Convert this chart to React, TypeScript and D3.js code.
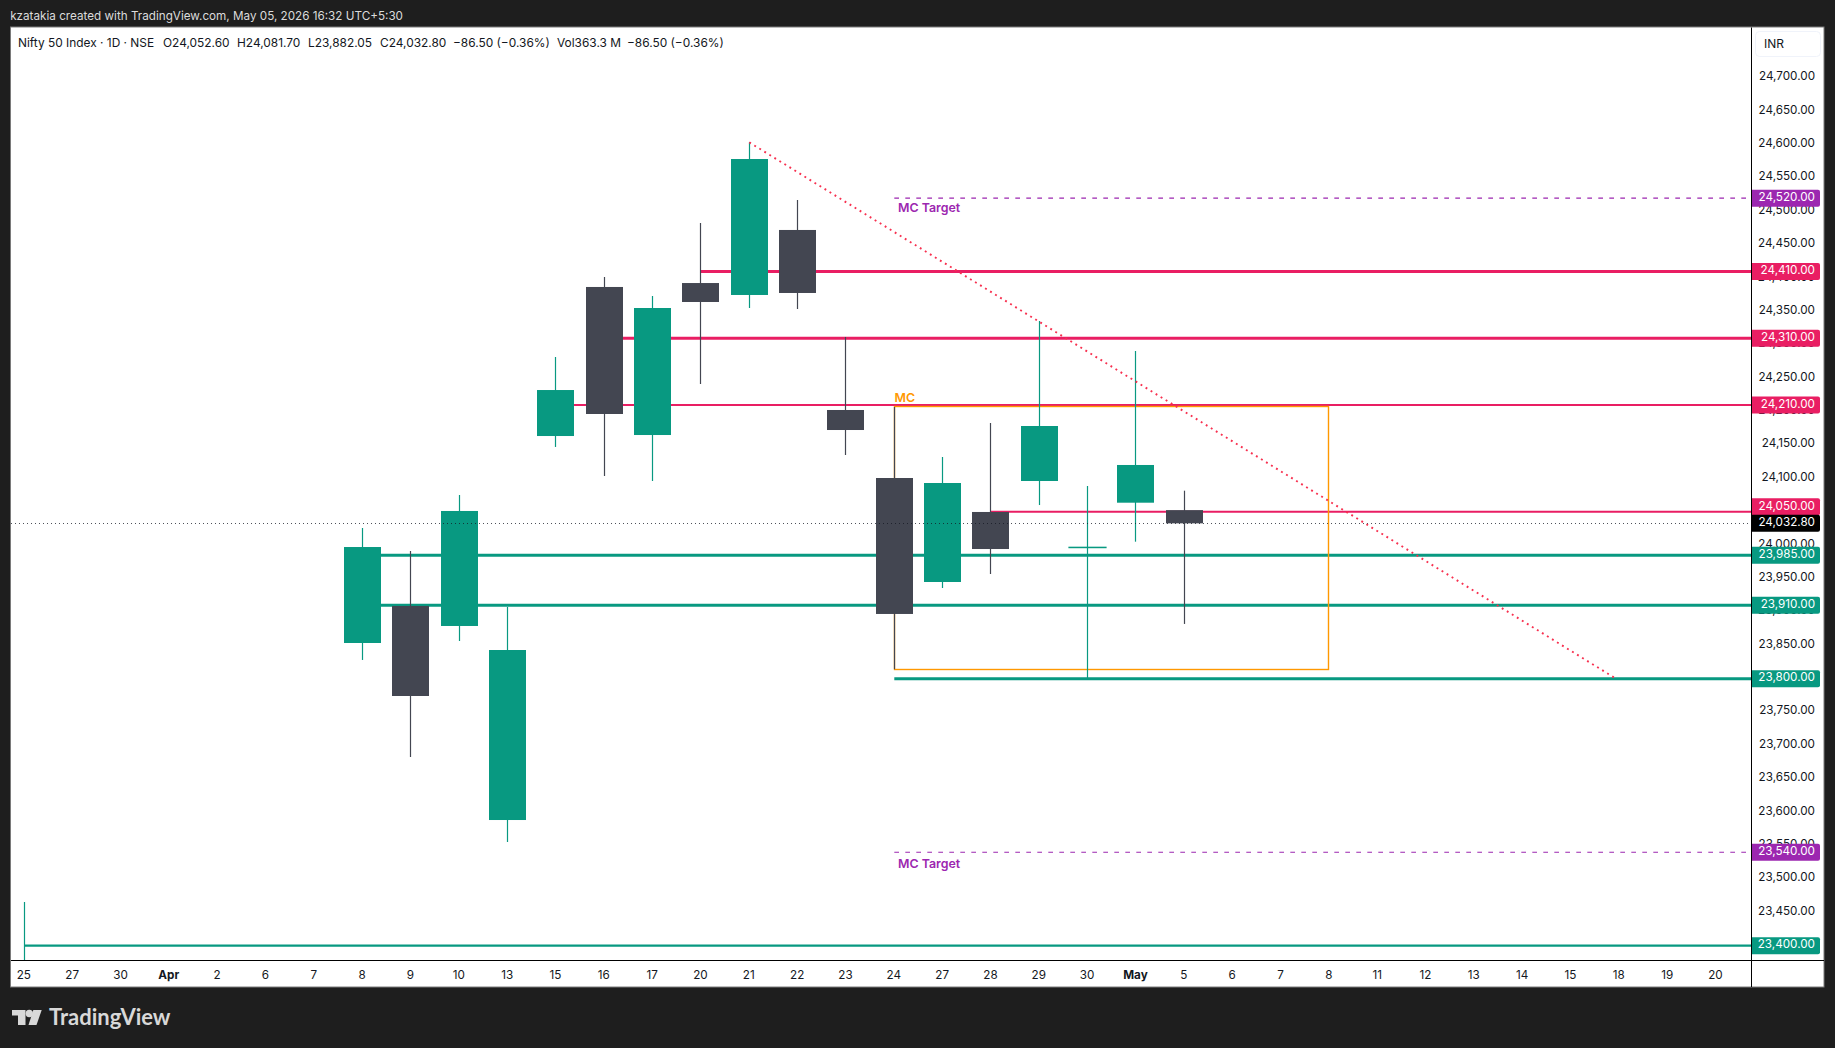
import * as d3 from 'd3';
import { useRef, useEffect } from 'react';

const WIDTH = 1835;
const HEIGHT = 1048;

// session labels along the time axis, one per bar slot
const dateLabels = ['25', '27', '30', 'Apr', '2', '6', '7', '8', '9', '10', '13', '15', '16', '17', '20', '21', '22', '23', '24', '27', '28', '29', '30', 'May', '5', '6', '7', '8', '11', '12', '13', '14', '15', '18', '19', '20'];

// candles. The first one has its body below the visible range
const barSlots = [0, 7, 8, 9, 10, 11, 12, 13, 14, 15, 16, 17, 18, 19, 20, 21, 22, 23, 24];
const opens = [23290, 23853.5, 23909, 23879, 23588.3, 24163.6, 24386.9, 24165.1, 24392.8, 24374.9, 24472.3, 24202.6, 24100.7, 23944.9, 24049.8, 24096.2, 23996.4, 24063.7, 24052.6];
const highs = [23465.5, 24025.8, 23991.3, 24075.2, 23907.4, 24282, 24401.8, 24373.4, 24482.7, 24603.6, 24517.2, 24312, 24207.1, 24132.2, 24183.1, 24335.9, 24088.7, 24291, 24081.7];
const lows = [23200, 23828.1, 23682.7, 23856.5, 23555.4, 24147.2, 24103.7, 24096.2, 24241.5, 24355.4, 24353.9, 24135.2, 23814.1, 23935.9, 23956.9, 24060.2, 23801.1, 24005.3, 23882.05];
const closes = [23300, 23997.3, 23774.1, 24051.3, 23843, 24232.5, 24196.6, 24355.4, 24364.4, 24578.6, 24377.9, 24172.6, 23897, 24093.2, 23994.3, 24178.6, 23996.9, 24120.2, 24032.8];

const priceTicks = d3.range(23400, 24701, 50);

// drawn levels: price, first bar slot, line width
const pinkLevels = [24410, 24310, 24210, 24050];
const pinkStarts = [14, 12, 11, 20];
const pinkWidths = [3, 3, 2, 2];
const greenLevels = [23985, 23910, 23800, 23400];
const greenStarts = [7, 7, 18, 0];
const greenWidths = [3, 3, 3, 2.3];
const targetLevels = [24520, 23540];
const targetStart = 18;
const lastPrice = 24032.8;

const boxSlots = [18, 26.98];
const boxPrices = [24207.1, 23814.1];
const trendSlots = [15, 32.92];
const trendPrices = [24603.6, 23800.5];

const legendParts = ['Nifty 50 Index · 1D · NSE', 'O24,052.60', 'H24,081.70', 'L23,882.05', 'C24,032.80', '−86.50 (−0.36%)', 'Vol363.3 M', '−86.50 (−0.36%)'];
const legendX = [18, 163, 237, 308, 380, 453, 557, 627];

const UP = '#089981';
const DOWN = '#434651';
const PINK = '#e91e63';
const PURPLE = '#9c27b0';
const ORANGE = '#ff9800';
const FONT = 'Inter, "Noto Sans", sans-serif';

const App = () => {
  const ref = useRef<SVGSVGElement>(null);

  useEffect(() => {
    if (!ref.current) return;
    document.body.style.margin = '0';

    const svg = d3.select(ref.current);
    svg.selectAll('*').remove();

    const x = d3.scaleLinear().domain([0, 24]).range([24.3, 1184.3]);
    const y = d3.scaleLinear().domain([24310, 23400]).range([338.3, 945.7]);
    const fmt = d3.format(',.2f');
    // middle of the pixel, so thin strokes stay solid
    const snap = (v: number) => Math.floor(v) + 0.5;

    const plotLeft = 11;
    const plotTop = 27.5;
    const axisX = 1751.5;
    const axisY = 960.5;
    const right = 1824;
    const bottom = 987;

    svg.append('rect').attr('width', WIDTH).attr('height', HEIGHT).attr('fill', '#1e1e1e');
    svg.append('rect')
      .attr('x', plotLeft - 0.5).attr('y', plotTop - 0.5)
      .attr('width', right - plotLeft + 0.5).attr('height', bottom - plotTop + 0.5)
      .attr('fill', '#fff').attr('stroke', '#7a7a7a').attr('stroke-width', 1);

    svg.append('defs').append('clipPath').attr('id', 'plot')
      .append('rect')
      .attr('x', plotLeft).attr('y', plotTop)
      .attr('width', axisX - plotLeft).attr('height', axisY - plotTop);

    // header bar text
    svg.append('text')
      .attr('x', 10.2).attr('y', 19.5)
      .attr('font-family', FONT).attr('font-size', 11.7)
      .attr('fill', '#dbdbdb')
      .text('kzatakia created with TradingView.com, May 05, 2026 16:32 UTC+5:30');

    const plot = svg.append('g').attr('clip-path', 'url(#plot)');

    const hline = (price: number, slot: number, color: string, w: number) =>
      plot.append('line')
        .attr('x1', x(slot)).attr('x2', axisX)
        .attr('y1', y(price)).attr('y2', y(price))
        .attr('stroke', color).attr('stroke-width', w);

    pinkLevels.forEach((p, i) => hline(p, pinkStarts[i], PINK, pinkWidths[i]));
    greenLevels.forEach((p, i) => hline(p, greenStarts[i], UP, greenWidths[i]));
    targetLevels.forEach(p =>
      hline(p, targetStart, PURPLE, 1.2).attr('stroke-dasharray', '4.7 6.3'));

    // orange MC box
    const boxX = snap(x(boxSlots[0]));
    const boxY = snap(y(boxPrices[0]));
    plot.append('rect')
      .attr('x', boxX).attr('y', boxY)
      .attr('width', snap(x(boxSlots[1])) - boxX)
      .attr('height', snap(y(boxPrices[1])) - boxY)
      .attr('fill', 'none').attr('stroke', ORANGE).attr('stroke-width', 1.4);

    // candles
    const bodyWidth = 37;
    const candles = plot.append('g')
      .selectAll('g')
      .data(barSlots)
      .join('g')
      .attr('fill', (_, i) => (closes[i] >= opens[i] ? UP : DOWN))
      .attr('stroke', (_, i) => (closes[i] >= opens[i] ? UP : DOWN));

    candles.append('line')
      .attr('x1', d => snap(x(d))).attr('x2', d => snap(x(d)))
      .attr('y1', (_, i) => y(highs[i])).attr('y2', (_, i) => y(lows[i]))
      .attr('stroke-width', 1.2);

    candles.append('rect')
      .attr('x', d => snap(x(d)) - bodyWidth / 2)
      .attr('width', bodyWidth)
      .attr('y', (_, i) => y(Math.max(opens[i], closes[i])))
      .attr('height', (_, i) => Math.max(Math.abs(y(opens[i]) - y(closes[i])), 0.3))
      .attr('stroke', 'none');

    // the doji body is only a thin line
    candles.filter((_, i) => Math.abs(opens[i] - closes[i]) < 1)
      .select('rect')
      .attr('stroke', UP).attr('stroke-width', 1.2);

    // last price dotted line runs over the candles
    plot.append('line')
      .attr('x1', plotLeft).attr('x2', axisX)
      .attr('y1', snap(y(lastPrice))).attr('y2', snap(y(lastPrice)))
      .attr('stroke', '#131722').attr('stroke-opacity', 0.75).attr('stroke-width', 1)
      .attr('stroke-dasharray', '1 3');

    // dotted trend line
    plot.append('line')
      .attr('x1', x(trendSlots[0])).attr('x2', x(trendSlots[1]))
      .attr('y1', y(trendPrices[0])).attr('y2', y(trendPrices[1]))
      .attr('stroke', '#f7304f').attr('stroke-width', 1.9)
      .attr('stroke-dasharray', '1.9 4');

    // drawing labels
    const note = (tx: number, ty: number, label: string, color: string) =>
      svg.append('text')
        .attr('x', tx).attr('y', ty)
        .attr('font-family', FONT).attr('font-size', 12.4).attr('font-weight', 600)
        .attr('fill', color)
        .text(label);
    note(894.5, 402, 'MC', ORANGE);
    note(898, 212, 'MC Target', PURPLE);
    note(898, 868, 'MC Target', PURPLE);

    // legend
    svg.append('g')
      .attr('font-family', FONT).attr('font-size', 11.9).attr('fill', '#131722')
      .selectAll('text')
      .data(legendParts)
      .join('text')
      .attr('x', (_, i) => legendX[i]).attr('y', 46.7)
      .text(d => d);

    // axis frame lines
    svg.append('line')
      .attr('x1', axisX).attr('x2', axisX).attr('y1', plotTop).attr('y2', bottom)
      .attr('stroke', '#000').attr('stroke-width', 1);
    svg.append('line')
      .attr('x1', plotLeft).attr('x2', right).attr('y1', axisY).attr('y2', axisY)
      .attr('stroke', '#000').attr('stroke-width', 1);

    // currency button
    svg.append('rect')
      .attr('x', 1755.5).attr('y', 31.5).attr('width', 65).attr('height', 25).attr('rx', 4)
      .attr('fill', '#fff').attr('stroke', '#f0f3fa');
    svg.append('text')
      .attr('x', 1764).attr('y', 48)
      .attr('font-family', FONT).attr('font-size', 12).attr('fill', '#131722')
      .text('INR');

    // price ticks
    svg.append('g')
      .attr('font-family', FONT).attr('font-size', 11.7).attr('fill', '#131722')
      .selectAll('text')
      .data(priceTicks)
      .join('text')
      .attr('x', 1815).attr('text-anchor', 'end')
      .attr('y', d => y(d) + 2.3)
      .text(d => fmt(d));

    // price tags; the 24,050 tag is pushed up to clear the last price tag
    const tags = [
      ...targetLevels.map(p => ({ p, c: PURPLE, dy: 0 })),
      ...pinkLevels.map(p => ({ p, c: PINK, dy: p === 24050 ? -5 : 0 })),
      ...greenLevels.map(p => ({ p, c: UP, dy: 0 })),
      { p: lastPrice, c: '#000', dy: 0 },
    ];
    const tag = svg.append('g').selectAll('g').data(tags).join('g');
    tag.append('path')
      .attr('fill', d => d.c)
      .attr('d', d => {
        const t = y(d.p) + d.dy - 8.5;
        const path = d3.path();
        path.moveTo(axisX + 0.5, t);
        path.lineTo(1818, t);
        path.arcTo(1820, t, 1820, t + 2, 2);
        path.lineTo(1820, t + 15);
        path.arcTo(1820, t + 17, 1818, t + 17, 2);
        path.lineTo(axisX + 0.5, t + 17);
        path.closePath();
        return path.toString();
      });
    tag.append('text')
      .attr('x', 1815).attr('text-anchor', 'end')
      .attr('y', d => y(d.p) + d.dy + 2.7)
      .attr('font-family', FONT).attr('font-size', 11.7).attr('fill', '#fff')
      .text(d => fmt(d.p));

    // date axis
    svg.append('g')
      .attr('font-family', FONT).attr('font-size', 11.7).attr('fill', '#131722')
      .selectAll('text')
      .data(dateLabels)
      .join('text')
      .attr('x', (_, i) => x(i) - 0.5).attr('y', 978.5)
      .attr('text-anchor', 'middle')
      .attr('font-weight', d => (d === 'Apr' || d === 'May' ? 700 : 400))
      .text(d => d);

    // TradingView mark
    const logo = svg.append('g').attr('fill', '#d8d8d8');
    logo.append('path').attr('d', 'M12 1010 H25.5 V1025 H18 V1015.5 H12 Z');
    logo.append('circle').attr('cx', 29.3).attr('cy', 1013.5).attr('r', 3.7);
    logo.append('path').attr('d', 'M33.3 1010 H41.7 L36.5 1025 H28.5 Z');
    svg.append('text')
      .attr('x', 49).attr('y', 1025)
      .attr('font-family', 'Lato, Inter, sans-serif').attr('font-size', 22).attr('font-weight', 700)
      .attr('fill', '#d8d8d8')
      .text('TradingView');
  }, []);

  return <svg ref={ref} width={WIDTH} height={HEIGHT} style={{ display: 'block', position: 'absolute', left: 0, top: 0 }}></svg>;
};

export default App;
